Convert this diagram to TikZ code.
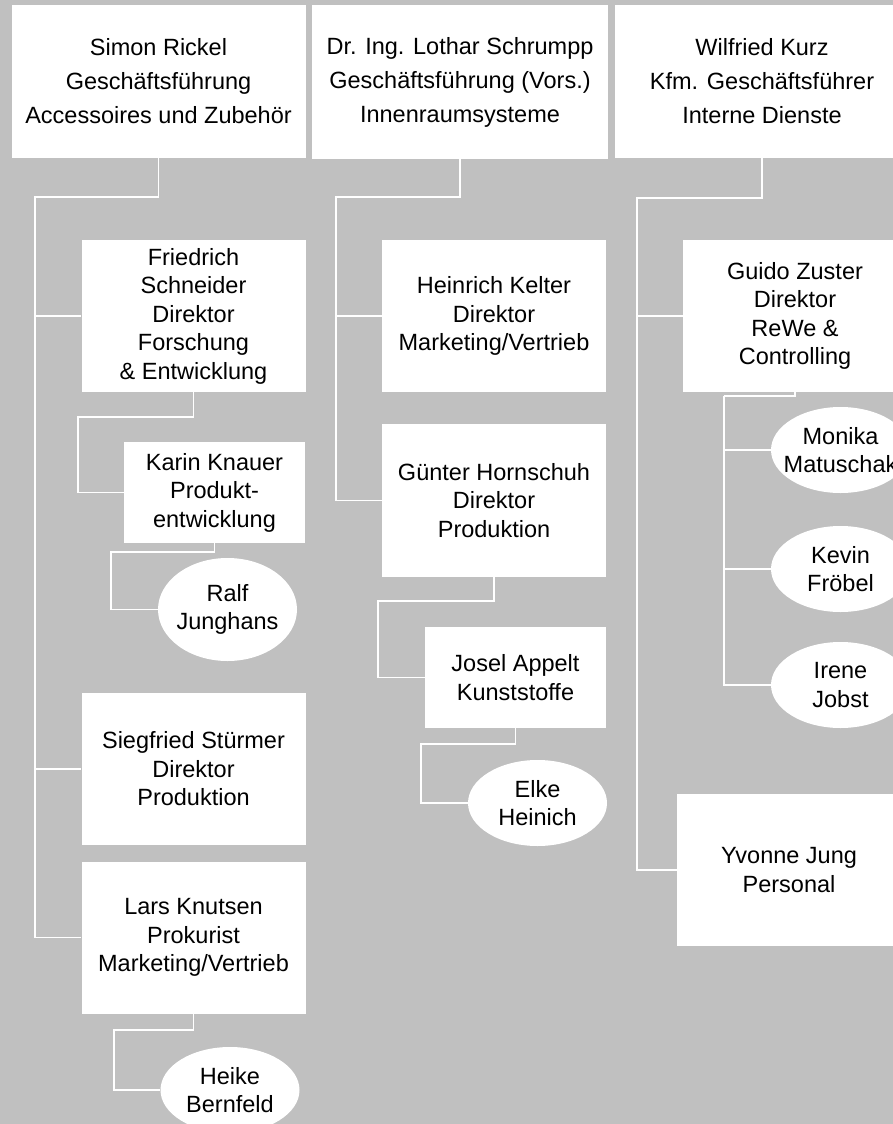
\documentclass[tikz,border=0pt]{standalone}
\usepackage{fontspec}
\setmainfont{Liberation Sans}
\usetikzlibrary{shapes.geometric}
\definecolor{chartgray}{RGB}{192,192,192}
\begin{document}
\begin{tikzpicture}[x=1pt, y=-1pt,
      chief/.style={fill=white, minimum width=294pt, minimum height=153pt, inner sep=0pt, align=center, font=\fontsize{23.5}{34}\selectfont},
      unit/.style={fill=white, minimum width=224pt, minimum height=152pt, inner sep=0pt, align=center, font=\fontsize{23.5}{28.5}\selectfont},
      staff/.style={ellipse, fill=white, minimum width=139pt, minimum height=86pt, inner xsep=-10pt, inner ysep=0pt, align=center, font=\fontsize{23.5}{28.5}\selectfont},
      link/.style={draw=white, line width=1.5pt}]
   \useasboundingbox (0, 0) rectangle (893, 1124);
   \fill[chartgray] (0, 0) rectangle (893, 1124);
   \clip (0, 0) rectangle (893, 1124);
   \begin{scope}
      \node[chief] (rickel) at (158.5, 81.5) {Simon Rickel\\Geschäftsführung\\Accessoires und Zubehör};
      \node[unit] (schneider) at (193.5, 316) {Friedrich\\Schneider\\Direktor\\Forschung\\\& Entwicklung};
      \node[unit, minimum width=181pt, minimum height=101pt] (knauer) at (214.5, 492.5) {Karin Knauer\\Produkt-\\entwicklung};
      \node[staff, minimum height=103pt] (junghans) at (227.5, 609.5) {Ralf\\Junghans};
      \node[unit] (stuermer) at (193.5, 769) {Siegfried Stürmer\\Direktor\\Produktion};
      \node[unit] (knutsen) at (193.5, 937.5) {Lars Knutsen\\Prokurist\\Marketing/Vertrieb};
      \node[staff] (bernfeld) at (230, 1090) {Heike\\Bernfeld};
      \coordinate (rickel-j) at (35, 197);
      \coordinate (schneider-j) at (78, 417);
      \coordinate (knauer-j) at (111, 552);
      \coordinate (knutsen-j) at (114, 1030);
      \draw[link] (rickel.south) |- (rickel-j) |- (schneider.west);
      \foreach \p in {stuermer, knutsen} {
         \draw[link] (rickel-j) |- (\p.west);
      }
      \draw[link] (schneider.south) |- (schneider-j) |- (knauer.west);
      \draw[link] (knauer.south) |- (knauer-j) |- (junghans.west);
      \draw[link] (knutsen.south) |- (knutsen-j) |- (bernfeld.west);
   \end{scope}
   \begin{scope}
      \node[chief, minimum width=296pt] (schrumpp) at (460, 82) {Dr. Ing. Lothar Schrumpp\\Geschäftsführung (Vors.)\\Innenraumsysteme};
      \node[unit] (kelter) at (494, 316) {Heinrich Kelter\\Direktor\\Marketing/Vertrieb};
      \node[unit, minimum height=153pt] (hornschuh) at (494, 500.5) {Günter Hornschuh\\Direktor\\Produktion};
      \node[unit, minimum width=181pt, minimum height=101pt] (appelt) at (515.5, 677.5) {Josel Appelt\\Kunststoffe};
      \node[staff] (heinich) at (537.5, 803) {Elke\\Heinich};
      \coordinate (schrumpp-j) at (336, 197);
      \coordinate (hornschuh-j) at (378, 601);
      \coordinate (appelt-j) at (421, 744);
      \draw[link] (schrumpp.south) |- (schrumpp-j) |- (kelter.west);
      \draw[link] (schrumpp-j) |- (hornschuh.west);
      \draw[link] (hornschuh.south) |- (hornschuh-j) |- (appelt.west);
      \draw[link] (appelt.south) |- (appelt-j) |- (heinich.west);
   \end{scope}
   \begin{scope}
      \node[chief] (kurz) at (762, 81.5) {Wilfried Kurz\\Kfm. Geschäftsführer\\Interne Dienste};
      \node[unit] (zuster) at (795, 316) {Guido Zuster\\Direktor\\ReWe \&\\Controlling};
      \node[staff] (matuschak) at (840.5, 450) {Monika\\Matuschak};
      \node[staff] (froebel) at (840.5, 569) {Kevin\\Fröbel};
      \node[staff] (jobst) at (840.5, 685) {Irene\\Jobst};
      \node[unit] (jung) at (789, 870) {Yvonne Jung\\Personal};
      \coordinate (kurz-j) at (637, 198);
      \coordinate (zuster-j) at (724, 396);
      \draw[link] (kurz.south) |- (kurz-j) |- (zuster.west);
      \draw[link] (kurz-j) |- (jung.west);
      \draw[link] (zuster.south) |- (zuster-j);
      \foreach \p in {matuschak, froebel, jobst} {
         \draw[link] (zuster-j) |- (\p.west);
      }
   \end{scope}
\end{tikzpicture}
\end{document}
